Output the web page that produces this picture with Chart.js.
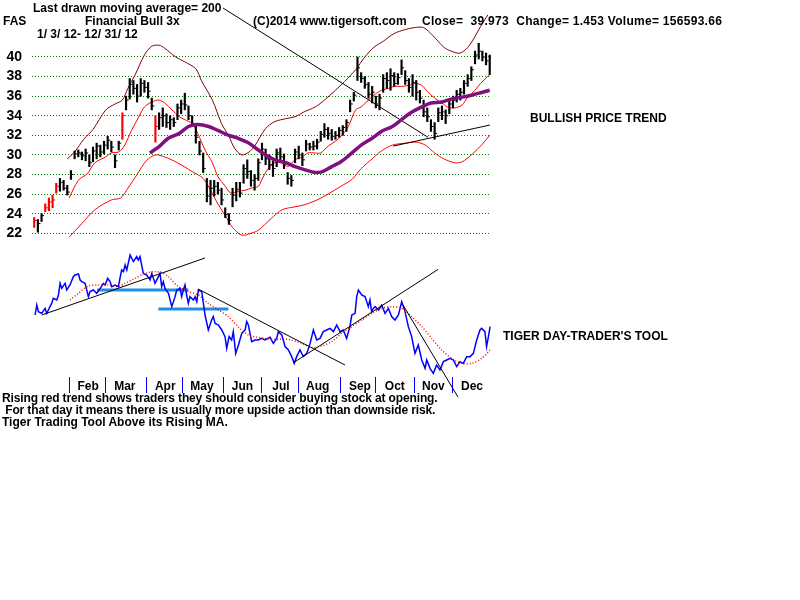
<!DOCTYPE html>
<html>
<head>
<meta charset="utf-8">
<title>FAS - Financial Bull 3x</title>
<script src="https://cdn.jsdelivr.net/npm/chart.js@4.4.1/dist/chart.umd.min.js"></script>
<style>
  html, body { margin: 0; padding: 0; background: #fff; }
  #wrap { position: relative; width: 800px; height: 600px; overflow: hidden; }
  #chart { position: absolute; left: 0; top: 0; }
  .t { position: absolute; font: bold 12px "Liberation Sans", Arial, sans-serif; line-height: 14px; white-space: pre; color: #000; }
  .tight { letter-spacing: -0.13px; }
</style>
</head>
<body>
<div id="wrap">
  <canvas id="chart" width="800" height="600"></canvas>
  <div class="t" style="left:33px;top:1px">Last drawn moving average= 200</div>
  <div class="t" style="left:3px;top:14px">FAS</div>
  <div class="t" style="left:85px;top:14px">Financial Bull 3x</div>
  <div class="t" style="left:253px;top:14px">(C)2014 www.tigersoft.com</div>
  <div class="t" style="left:422px;top:14px;letter-spacing:0.28px">Close=  39.973  Change= 1.453 Volume= 156593.66</div>
  <div class="t" style="left:37px;top:27px">1/ 3/ 12- 12/ 31/ 12</div>
  <div class="t" style="left:530px;top:111px">BULLISH PRICE TREND</div>
  <div class="t" style="left:503px;top:329px">TIGER DAY-TRADER'S TOOL</div>
  <div class="t tight" style="left:2px;top:391px">Rising red trend shows traders they should consider buying stock at opening.</div>
  <div class="t tight" style="left:2px;top:403px"> For that day it means there is usually more upside action than downside risk.</div>
  <div class="t" style="left:2px;top:415px">Tiger Trading Tool Above its Rising MA.</div>
</div>
<script>
(function () {
    'use strict';

    // ================================================================
    //  Data (x = trading-day index since 1/3/12)
    // ================================================================
    var monthStarts = [20, 40, 62, 82, 104, 125, 145, 168, 187, 208, 229];
    var monthLabels = ['Feb', 'Mar', 'Apr', 'May', 'Jun', 'Jul', 'Aug', 'Sep', 'Oct', 'Nov', 'Dec'];
    var priceTicks = [22, 24, 26, 28, 30, 32, 34, 36, 38, 40];

    // daily bars, one every second session starting at day 1
    var barLow = [22.6, 22.1, 23.2, 24.2, 24.3, 24.6, 26.1, 26.3, 26.4, 25.9,
        27.5, 29.6, 29.8, 29.5, 29.4, 28.8, 29.3, 29.6, 29.8, 30.1,
        30.6, 30.3, 28.7, 30.5, 31.6, 34.6, 35.7, 36.2, 35.4, 36.0,
        36.4, 35.8, 34.6, 31.3, 32.6, 32.9, 32.8, 32.6, 32.9, 33.6,
        34.2, 34.6, 33.6, 32.9, 31.2, 30.0, 28.2, 25.2, 24.9, 25.8,
        26.0, 24.9, 23.6, 22.9, 24.7, 25.3, 25.7, 27.1, 27.6, 26.8,
        26.4, 27.4, 29.5, 29.0, 28.5, 27.8, 28.8, 29.2, 28.6, 27.0,
        26.8, 29.2, 29.6, 28.9, 30.4, 30.5, 30.5, 30.6, 31.4, 31.8,
        31.6, 31.5, 31.6, 31.8, 32.0, 32.4, 34.4, 35.5, 37.6, 37.4,
        36.8, 35.8, 35.3, 34.8, 34.6, 36.4, 36.8, 36.6, 37.0, 37.2,
        38.2, 37.2, 36.4, 36.0, 35.6, 35.3, 33.9, 33.4, 32.4, 31.6,
        33.4, 33.6, 33.2, 34.2, 34.8, 35.4, 35.6, 36.2, 37.0, 37.6,
        39.3, 39.8, 39.6, 39.2, 38.2];
    var barHigh = [23.6, 23.4, 24.0, 25.0, 25.6, 25.9, 27.1, 27.6, 27.4, 26.9,
        28.4, 30.4, 30.5, 30.3, 30.6, 30.0, 30.8, 31.2, 31.0, 31.4,
        31.9, 31.4, 30.0, 31.4, 34.3, 36.0, 37.8, 37.6, 37.2, 37.8,
        37.6, 37.4, 35.8, 34.0, 34.3, 34.8, 34.2, 34.0, 33.8, 35.2,
        35.6, 36.3, 35.0, 34.0, 33.0, 31.4, 30.2, 27.6, 27.4, 27.4,
        27.2, 26.6, 24.6, 24.0, 26.6, 27.2, 27.2, 29.0, 29.5, 28.4,
        28.0, 29.6, 31.2, 30.6, 30.0, 29.4, 30.6, 30.7, 30.1, 28.2,
        27.9, 30.6, 30.9, 30.2, 31.5, 31.2, 31.4, 31.6, 32.4, 33.2,
        32.8, 32.6, 32.4, 32.8, 33.0, 33.6, 35.6, 36.4, 40.0, 38.4,
        38.0, 37.4, 37.0, 36.0, 36.2, 38.2, 38.4, 38.8, 38.4, 38.3,
        39.7, 38.6, 37.8, 38.2, 37.6, 36.6, 35.6, 34.8, 33.6, 33.3,
        34.8, 35.0, 34.6, 35.6, 36.0, 36.6, 36.8, 37.6, 38.2, 39.0,
        40.6, 41.4, 40.6, 40.4, 40.2];
    var barClose = [23.3, 23.0, 23.8, 24.6, 25.2, 25.4, 26.8, 27.2, 26.6, 26.2,
        28.0, 30.1, 30.2, 29.9, 30.2, 29.2, 30.4, 30.9, 30.3, 31.0,
        31.5, 30.8, 29.4, 31.2, 34.0, 35.6, 37.2, 36.8, 36.0, 37.3,
        36.9, 36.5, 35.0, 32.9, 33.8, 34.0, 33.3, 33.6, 33.3, 34.8,
        35.2, 35.1, 34.0, 33.2, 31.8, 30.4, 28.6, 25.8, 26.6, 26.8,
        26.4, 25.4, 23.9, 23.3, 25.9, 26.5, 26.1, 28.6, 28.3, 27.4,
        27.6, 29.2, 30.6, 29.6, 29.0, 28.6, 30.2, 29.8, 29.1, 27.6,
        27.4, 30.3, 30.0, 29.5, 31.1, 30.8, 30.9, 31.3, 32.1, 32.6,
        32.2, 31.9, 32.0, 32.5, 32.8, 33.3, 35.2, 36.1, 38.9, 37.8,
        37.2, 36.2, 36.4, 35.2, 35.8, 37.8, 37.6, 38.1, 37.3, 37.9,
        38.9, 37.6, 36.9, 37.4, 36.4, 35.8, 34.4, 33.9, 32.9, 32.2,
        34.3, 34.4, 34.0, 35.2, 35.6, 36.2, 36.4, 37.3, 37.8, 38.7,
        40.2, 40.6, 40.0, 39.6, 39.97];
    var redBars = [0, 3, 4, 5, 6, 24, 33];

    var midDays = [20, 25, 30, 34, 40, 43, 47, 50, 54, 58, 61, 65, 69, 72, 76, 80, 83, 87, 90, 94,
        98, 101, 105, 108, 112, 116, 119, 123, 125, 128, 132, 136, 139, 143, 147, 150, 154, 157, 161, 165,
        168, 172, 176, 179, 183, 186, 190, 194, 197, 201, 205, 208, 212, 215, 219, 223, 226, 230, 234, 237,
        241, 244, 249];
    var midValues = [25.6, 27.4, 28.1, 29.2, 29.8, 30.2, 30.3, 30.9, 32.5, 33.9, 34.9, 35.4, 35.6, 35.3, 34.6, 33.9, 33.6, 33.2, 32.2, 30.5,
        29.2, 27.8, 26.8, 26.1, 26.3, 26.4, 26.6, 26.8, 27.5, 28.5, 29.2, 29.2, 28.8, 29.5, 29.8, 30.2, 30.2, 30.2, 30.9, 31.4,
        31.9, 32.9, 34.6, 34.9, 35.6, 36.1, 36.6, 36.8, 37.0, 37.0, 37.1, 37.3, 37.1, 36.5, 35.8, 35.3, 34.9, 34.8, 35.1, 35.9,
        36.6, 37.3, 38.2];

    var upperDays = [19, 23, 28, 33, 40, 45, 49, 52, 56, 61, 65, 69, 72, 78, 83, 89, 92, 98, 103, 107,
        110, 114, 118, 121, 127, 132, 138, 143, 148, 154, 159, 165, 170, 176, 181, 186, 191, 197, 203, 208,
        213, 218, 224, 228, 233, 238, 244, 248];
    var upperValues = [29.6, 30.3, 31.6, 32.6, 34.6, 35.2, 35.6, 36.8, 38.2, 40.2, 41.1, 41.2, 40.9, 40.0, 39.5, 38.8, 37.6, 35.6, 33.2, 31.9,
        30.7, 30.0, 30.3, 30.9, 32.7, 33.4, 33.7, 33.9, 34.4, 34.9, 35.6, 36.6, 37.5, 38.7, 40.0, 41.0, 41.6, 42.4, 42.8, 43.0,
        43.0, 42.2, 41.0, 40.6, 40.4, 41.2, 43.1, 44.3];

    var lowerDays = [20, 27, 34, 43, 48, 52, 57, 62, 67, 72, 79, 87, 93, 97, 101, 105, 109, 114, 119, 123,
        130, 136, 143, 148, 155, 161, 168, 174, 179, 185, 190, 196, 203, 209, 214, 219, 224, 230, 234, 239,
        245, 249];
    var lowerValues = [21.6, 23.0, 24.4, 25.4, 25.6, 26.6, 28.0, 29.4, 30.0, 29.8, 29.2, 28.3, 27.6, 26.4, 25.0, 23.8, 22.6, 21.8, 22.0, 22.3,
        23.5, 24.4, 24.7, 24.9, 25.4, 26.0, 26.8, 27.5, 28.6, 29.6, 30.4, 31.0, 31.2, 31.3, 31.0, 30.2, 29.6, 29.2, 29.3, 30.0,
        31.1, 32.0];

    var longMaDays = [64, 69, 74, 80, 85, 90, 96, 101, 107, 112, 118, 123, 127, 132, 138, 143, 148, 154, 158, 163,
        168, 174, 179, 185, 190, 196, 201, 206, 212, 217, 223, 228, 234, 239, 245, 249];
    var longMaValues = [30.2, 30.85, 31.7, 32.2, 32.9, 33.1, 32.9, 32.5, 32.0, 31.7, 31.2, 30.5, 30.0, 29.5, 29.2, 28.8, 28.5, 28.2, 28.3, 28.8,
        29.3, 30.2, 31.0, 31.7, 32.4, 32.9, 33.6, 34.3, 34.9, 35.3, 35.4, 35.7, 35.9, 36.1, 36.4, 36.6];

    // [day1, price1, day2, price2]
    var priceLines = [[103.8, 45.0, 215.4, 31.8], [196.4, 30.9, 249.1, 33.05]];

    // Tiger Day-Trader's Tool (0..100 scale)
    var toolDays = [1.5, 2.4, 3.3, 5.1, 6.9, 7.8, 8.7, 10.5, 11.4, 13.3,
        14.2, 15.1, 16.0, 17.8, 18.7, 20.5, 22.3, 23.2, 25.1, 26.0,
        26.9, 28.7, 30.5, 31.4, 33.2, 35.0, 36.9, 38.7, 39.6, 41.0,
        42.3, 43.2, 45.0, 46.8, 48.6, 49.6, 50.5, 51.4, 53.2, 55.0,
        56.8, 57.7, 58.6, 60.4, 62.3, 64.1, 65.0, 66.8, 68.6, 69.5,
        70.4, 71.3, 72.2, 74.1, 75.9, 77.7, 78.6, 80.4, 81.3, 82.2,
        83.1, 84.0, 84.9, 85.8, 87.7, 88.6, 89.5, 90.4, 92.2, 94.0,
        95.8, 97.6, 98.5, 99.5, 101.3, 103.1, 104.9, 105.8, 107.1, 108.5,
        109.4, 110.7, 112.2, 114.0, 115.8, 116.7, 117.6, 119.4, 121.2, 123.0,
        124.9, 126.7, 129.4, 131.2, 133.0, 133.9, 135.8, 137.6, 139.4, 141.2,
        142.6, 143.9, 145.7, 147.5, 149.4, 151.2, 153.0, 154.8, 156.6, 158.4,
        160.2, 162.1, 163.9, 165.7, 167.5, 169.3, 171.1, 172.9, 173.9, 175.7,
        176.6, 177.5, 179.3, 181.1, 182.9, 183.8, 184.7, 185.6, 186.6, 188.4,
        190.2, 192.0, 193.8, 195.6, 197.4, 199.3, 201.1, 202.9, 204.7, 206.5,
        208.3, 210.1, 212.0, 213.8, 214.7, 216.5, 218.3, 220.1, 221.9, 223.8,
        225.6, 227.4, 229.2, 231.0, 232.8, 234.6, 236.5, 238.3, 240.1, 241.9,
        243.7, 244.6, 246.4, 247.3, 248.3, 249.2];
    var toolValues = [48.0, 56.0, 50.7, 49.3, 53.3, 49.3, 52.0, 57.3, 61.3, 60.0,
        64.0, 73.3, 69.3, 73.3, 68.0, 72.0, 78.7, 80.0, 80.8, 76.0,
        74.7, 73.3, 62.7, 66.7, 68.0, 65.3, 69.3, 73.3, 72.0, 77.3,
        74.7, 70.7, 72.0, 70.7, 84.0, 82.7, 88.0, 84.0, 96.0, 90.7,
        94.7, 92.0, 94.7, 81.3, 80.0, 76.0, 81.3, 73.3, 78.7, 81.3,
        70.7, 74.7, 69.3, 65.3, 54.7, 62.7, 68.0, 69.3, 62.7, 68.0,
        72.0, 64.0, 57.3, 62.7, 60.0, 62.7, 58.7, 68.0, 66.7, 48.0,
        36.0, 44.0, 46.7, 41.3, 40.0, 36.0, 30.7, 21.3, 30.7, 28.0,
        34.7, 17.3, 24.0, 33.3, 36.0, 42.7, 40.0, 26.7, 28.0, 28.0,
        29.3, 28.0, 30.1, 25.3, 29.3, 34.7, 32.0, 22.7, 20.0, 14.7,
        9.3, 14.7, 20.0, 14.7, 17.3, 25.3, 36.0, 28.0, 29.3, 34.7,
        36.0, 37.3, 34.7, 40.0, 34.7, 36.0, 29.3, 38.7, 48.0, 49.3,
        62.7, 68.0, 64.0, 62.7, 54.7, 60.0, 50.7, 53.3, 54.7, 52.0,
        56.0, 49.3, 53.3, 46.7, 44.0, 48.0, 58.7, 50.7, 38.7, 30.7,
        17.3, 24.0, 12.0, 5.3, 12.0, 5.3, 1.3, 8.0, 4.0, 10.7,
        12.0, 13.3, 12.0, 6.7, 10.7, 9.3, 14.7, 14.7, 17.3, 28.0,
        36.0, 37.3, 34.7, 22.7, 30.7, 38.7];

    var toolMaDays = [20.5, 25, 30.5, 36, 41.4, 46.8, 50.5, 55.9, 61.4, 66.8,
        70.4, 74, 79.5, 85, 90.4, 95.8, 101.3, 106.7, 112, 117.6,
        123, 126.7, 132, 139.4, 146.6, 152, 157.5, 163, 168.4, 173.9,
        179.3, 184.7, 190.2, 195.6, 201.1, 206.5, 212, 217.4, 222.8, 228.3,
        233.7, 239.2, 244.6, 249.2];
    var toolMaValues = [60, 65.3, 71.2, 72, 72, 70.7, 73.3, 77.3, 81.3, 82.7,
        81.9, 78.7, 70.7, 66.7, 64, 57.3, 52, 46.7, 38.7, 32,
        30.1, 29.3, 28.5, 28.5, 25.3, 22.1, 23.2, 26.7, 33.3, 38.7,
        44, 49.3, 53.3, 54.7, 53.3, 46.7, 38.7, 29.3, 20, 13.3,
        9.3, 9.3, 13.3, 20];

    var toolLines = [[5.1, 48, 94, 93.6], [90.2, 68.8, 170.2, 8.0], [141.9, 9.6, 220.9, 84.5], [201.8, 56, 231.7, -17.6]];
    // [fromDay, toDay, level]
    var toolLevels = [[35.2, 84.9, 68], [68.6, 106.7, 52.8]];

    // ================================================================
    //  Helpers
    // ================================================================
    var FONT = '"Liberation Sans", Arial, sans-serif';

    function pts(xs, ys) {
        return xs.map(function (x, i) { return { x: x, y: ys[i] }; });
    }

    function curve(xs, ys, color, width, axis, extra) {
        var ds = {
            type: 'line',
            data: pts(xs, ys),
            borderColor: color,
            borderWidth: width,
            pointRadius: 0,
            tension: 0.3,
            fill: false,
            yAxisID: axis,
            order: 2
        };
        return Object.assign(ds, extra || {});
    }

    function segment(x1, y1, x2, y2, color, width, axis) {
        return {
            type: 'line',
            data: [{ x: x1, y: y1 }, { x: x2, y: y2 }],
            borderColor: color,
            borderWidth: width,
            pointRadius: 0,
            tension: 0,
            yAxisID: axis,
            clip: false,
            order: 0
        };
    }

    function barColor(ctx) {
        return redBars.indexOf(ctx.dataIndex) >= 0 ? '#ff0000' : '#000000';
    }

    // scale paddings would shrink the plot; the layout is pinned by hand
    function noPadding(a) {
        a.paddingTop = 0;
        a.paddingBottom = 0;
        a.paddingLeft = 0;
        a.paddingRight = 0;
    }

    var datasets = [];

    // price bars
    datasets.push({
        type: 'bar',
        data: barLow.map(function (lo, i) { return { x: 1 + 2 * i, y: [lo, barHigh[i]] }; }),
        backgroundColor: barColor,
        barThickness: 1.5,
        grouped: false,
        yAxisID: 'y',
        order: 1
    });
    datasets.push({
        type: 'line',
        showLine: false,
        data: barClose.map(function (c, i) { return { x: 1.6 + 2 * i, y: c }; }),
        pointStyle: 'line',
        pointRadius: 1.5,
        pointBorderWidth: 1,
        pointBorderColor: barColor,
        yAxisID: 'y',
        order: 1
    });

    // bands and moving averages
    datasets.push(curve(upperDays, upperValues, '#800000', 1, 'y'));
    datasets.push(curve(midDays, midValues, '#ff0000', 1, 'y'));
    datasets.push(curve(lowerDays, lowerValues, '#ff0000', 1, 'y'));
    datasets.push(curve(longMaDays, longMaValues, '#80107f', 3.5, 'y', { order: 0 }));

    priceLines.forEach(function (l) {
        datasets.push(segment(l[0], l[1], l[2], l[3], '#000000', 1, 'y'));
    });

    // day-trader's tool panel
    toolLevels.forEach(function (l) {
        datasets.push(Object.assign(segment(l[0], l[2], l[1], l[2], '#1e8cf0', 3, 'y2'), { order: 3 }));
    });
    datasets.push(curve(toolMaDays, toolMaValues, '#ff0000', 1.5, 'y2', { borderDash: [1, 2], order: 1 }));
    datasets.push(curve(toolDays, toolValues, '#0000ff', 1.5, 'y2', { tension: 0, order: 2 }));
    toolLines.forEach(function (l) {
        datasets.push(segment(l[0], l[1], l[2], l[3], '#000000', 1, 'y2'));
    });

    // ================================================================
    //  Chart
    // ================================================================
    new Chart(document.getElementById('chart'), {
        data: { datasets: datasets },
        options: {
            responsive: false,
            animation: false,
            events: [],
            layout: { autoPadding: false, padding: { left: 0, top: 0, right: 309, bottom: 207 } },
            plugins: { legend: { display: false }, tooltip: { enabled: false } },
            scales: {
                x: {
                    type: 'linear',
                    offset: false,
                    min: -0.2,
                    max: 249.7,
                    afterBuildTicks: function (a) { a.ticks = monthStarts.map(function (v) { return { value: v }; }); },
                    afterFit: function (a) { a.height = 16; noPadding(a); },
                    grid: { offset: false, drawOnChartArea: false, drawTicks: true, tickLength: 16, color: '#0000ff', lineWidth: 1 },
                    border: { display: false },
                    ticks: {
                        autoSkip: false,
                        maxRotation: 0,
                        labelOffset: 19,
                        padding: -14,
                        color: '#000',
                        font: { family: FONT, size: 12, weight: 'bold' },
                        callback: function (v, i) { return monthLabels[i]; }
                    }
                },
                y: {
                    position: 'left',
                    min: 7.32,
                    max: 45.82,
                    afterBuildTicks: function (a) { a.ticks = priceTicks.map(function (v) { return { value: v }; }); },
                    afterFit: function (a) { a.width = 32; noPadding(a); },
                    grid: { color: '#008000', lineWidth: 1, drawTicks: false },
                    border: { display: false, dash: [1, 2] },
                    ticks: {
                        padding: 10,
                        color: '#000',
                        font: { family: FONT, size: 14, weight: 'bold' },
                        callback: function (v) { return String(v); }
                    }
                },
                y2: {
                    position: 'right',
                    display: false,
                    min: -1.6,
                    max: 300
                }
            }
        }
    });
})();
</script>
</body>
</html>
